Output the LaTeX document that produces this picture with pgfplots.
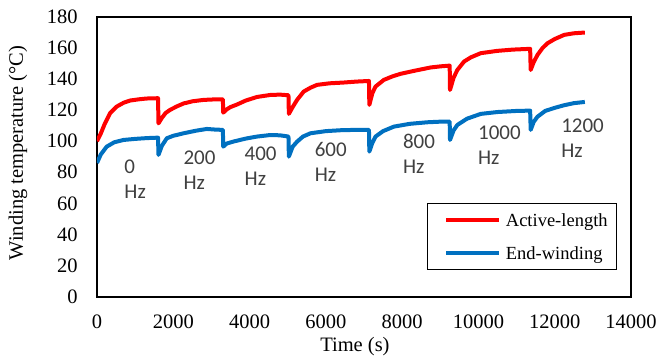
\documentclass[border=0pt]{standalone}
\usepackage{fontspec}
\setmainfont{Liberation Serif}
\newfontfamily\carlito{Carlito}
\usepackage{pgfplots}
\pgfplotsset{compat=1.18}
\definecolor{exred}{HTML}{FF0000}
\definecolor{exblue}{HTML}{0070C0}
\definecolor{annot}{HTML}{404040}
\begin{document}
\begin{tikzpicture}
\begin{axis}[
  scale only axis, width=267bp, height=139.75bp,
  xmin=0, xmax=14000, ymin=0, ymax=180,
  xtick={0,2000,4000,6000,8000,10000,12000,14000},
  xticklabels={0,2000,4000,6000,8000,10000,12000,14000},
  ytick={0,20,...,180},
  scaled x ticks=false,
  major tick length=0pt,
  axis line style={line width=1bp},
  /pgf/number format/assume math mode=true,
  tick label style={font=\fontsize{10.25bp}{12bp}\selectfont, inner sep=0pt},
  xticklabel style={anchor=north, yshift=-9bp},
  yticklabel style={anchor=east, xshift=-9.5bp},
  xlabel={Time (s)}, ylabel={Winding temperature (°C)},
  every axis x label/.style={at={([yshift=-25.1bp]axis description cs:0.483,0)}, anchor=center, inner sep=0pt, font=\fontsize{10.25bp}{12bp}\selectfont},
  every axis y label/.style={at={([xshift=-39.5bp]axis description cs:0,0.513)}, anchor=center, rotate=90, inner sep=0pt, font=\fontsize{10.25bp}{12bp}\selectfont},
  legend style={at={(axis description cs:0.9745,0.0948)}, anchor=south east, draw=black, line width=0.75bp, inner xsep=4.5bp, inner ysep=0pt, font=\fontsize{9.25bp}{11bp}\selectfont, row sep=-0.55bp, cells={anchor=west}, nodes={inner sep=0pt, text height=11.7bp, text depth=5bp}, /tikz/every odd column/.style={column sep=2.3bp}},
  legend cell align=left,
  legend image code/.code={\path (-3.85bp,0bp); \draw[#1, line width=2bp] (0bp,0bp) -- (26.65bp,0bp);},
]
\addplot[exred, line width=2bp, line join=round] coordinates {
(0,100) (100,105) (200,111) (341,118) (516,122.3) (700,124.8) (867,126.2) (1100,127) (1300,127.5) (1600,127.7)
(1612,111.5) (1700,115) (1800,118.2) (1917,120.2) (2100,122.5) (2268,124.3) (2500,125.7) (2790,126.6) (3050,126.9) (3300,127)
(3310,118.4) (3400,120.5) (3500,122) (3667,123.6) (3900,126.2) (4195,128.5) (4545,129.8) (4800,130) (5020,129.6)
(5030,117.6) (5130,122) (5245,126.6) (5420,132) (5600,134.5) (5771,136.3) (6100,137.3) (6471,137.8) (6800,138.4) (7130,138.8)
(7140,123.4) (7220,131) (7302,135.2) (7521,139.5) (7750,141.8) (7959,143.4) (8309,145.3) (8747,147.5) (9000,148.2) (9246,148.7)
(9255,133) (9350,141) (9448,145.9) (9623,151.3) (9800,154) (10061,156.7) (10499,158.2) (10900,159) (11356,159.5)
(11370,145.9) (11450,151) (11549,155.6) (11680,160) (11812,163.1) (12000,165.8) (12250,168.5) (12500,169.5) (12790,170)
};
\addlegendentry{Active-length}
\addplot[exblue, line width=2bp, line join=round] coordinates {
(0,86) (100,91.5) (254,96.5) (450,99.3) (691,100.8) (1000,101.5) (1300,102) (1600,102.3)
(1612,91.2) (1700,97) (1830,101.9) (2000,103.5) (2268,105.1) (2600,106.8) (2880,107.9) (3100,107.5) (3300,107.3)
(3310,96.5) (3400,98.5) (3580,99.8) (3900,101.7) (4195,103) (4545,104) (4800,103.8) (5020,103)
(5030,90.1) (5130,96.5) (5245,99.7) (5400,103) (5595,105.1) (6000,106.5) (6471,107.2) (7130,107.3)
(7140,93.3) (7220,99) (7302,103) (7500,106.5) (7783,109.4) (8200,111.2) (8660,112.2) (9010,112.6) (9246,112.6)
(9255,100.8) (9350,107) (9448,110.5) (9700,114.5) (10061,117.6) (10500,118.8) (11000,119.5) (11356,119.7)
(11370,107.3) (11450,112.5) (11549,115.8) (11750,119.5) (12000,121.5) (12250,123.2) (12500,124.5) (12790,125.3)
};
\addlegendentry{End-winding}
\begin{scope}[every node/.style={anchor=base west, inner sep=0pt, text=annot, font=\carlito\fontsize{10.5bp}{12.5bp}\selectfont}]
\node at (axis cs:709,79.35) {0};
\node at (axis cs:709,63.25) {Hz};
\node at (axis cs:2259,84.95) {200};
\node at (axis cs:2259,68.85) {Hz};
\node at (axis cs:3861,87.53) {400};
\node at (axis cs:3861,71.43) {Hz};
\node at (axis cs:5700,90.1) {600};
\node at (axis cs:5700,74.0) {Hz};
\node at (axis cs:8012,95.26) {800};
\node at (axis cs:8012,79.16) {Hz};
\node at (axis cs:9982,101.06) {1000};
\node at (axis cs:9982,84.96) {Hz};
\node at (axis cs:12162,105.57) {1200};
\node at (axis cs:12162,89.47) {Hz};
\end{scope}
\end{axis}
\pgfresetboundingbox
\path[use as bounding box] (-48.5bp,-30.75bp) rectangle (281bp,148.25bp);
\end{tikzpicture}
\end{document}
